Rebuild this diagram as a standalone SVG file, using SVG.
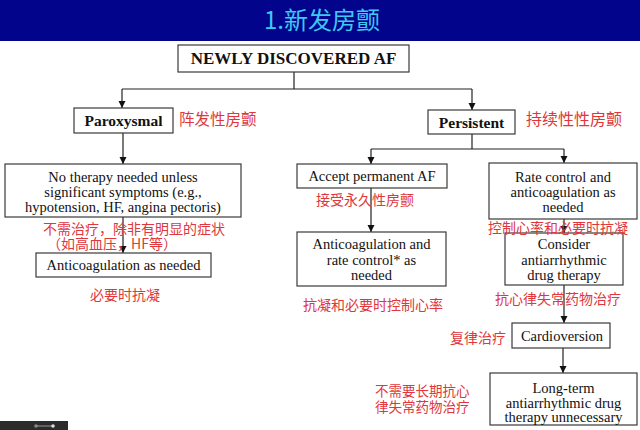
<svg xmlns="http://www.w3.org/2000/svg" width="640" height="430" viewBox="0 0 640 430">
<style>
.box{fill:#fff;stroke:#3a3a3a;stroke-width:1.2}
.en{font-family:"Liberation Serif","Times New Roman",serif;font-size:14.5px;fill:#111;text-anchor:middle}
.bold{font-weight:bold;font-size:15.5px}
.cn{font-family:"Noto Sans CJK SC","Noto Sans",sans-serif;font-size:14px;fill:#e0363c}
.conn{stroke:#222;stroke-width:1.2;fill:none}
</style>
<defs>
<marker id="arr" markerWidth="8" markerHeight="8" refX="7" refY="4" orient="auto" markerUnits="userSpaceOnUse">
<path d="M0,0.5 L7,4 L0,7.5 Z" fill="#111"/>
</marker>
</defs>
<rect x="0" y="0" width="640" height="430" fill="#fff"/>
<rect x="0" y="0" width="640" height="41" fill="#02058c"/>
<text x="322" y="29" text-anchor="middle" font-family="Noto Sans CJK SC, sans-serif" font-size="24" fill="#3ec8f4">1.新发房颤</text>

<g id="connectors">
<path class="conn" d="M294,72 V89 M122,89 H472"/>
<path class="conn" d="M122,89 V108" marker-end="url(#arr)"/>
<path class="conn" d="M472,89 V110" marker-end="url(#arr)"/>
<path class="conn" d="M123,133 V164" marker-end="url(#arr)"/>
<path class="conn" d="M123,217 V253" marker-end="url(#arr)"/>
<path class="conn" d="M472,134 V149 M371,149 H564"/>
<path class="conn" d="M371,149 V164" marker-end="url(#arr)"/>
<path class="conn" d="M564,149 V163" marker-end="url(#arr)"/>
<path class="conn" d="M371,188 V232" marker-end="url(#arr)"/>
<path class="conn" d="M564,219 V233" marker-end="url(#arr)"/>
<path class="conn" d="M564,285 V323" marker-end="url(#arr)"/>
<path class="conn" d="M563,348 V373" marker-end="url(#arr)"/>
</g>

<g id="newly">
<rect class="box" x="178" y="45" width="231" height="27"/>
<text class="en bold" x="293.5" y="64" style="font-size:17px">NEWLY DISCOVERED AF</text>
</g>
<g id="paroxysmal">
<rect class="box" x="74" y="108" width="99" height="25"/>
<text class="en bold" x="123.5" y="126">Paroxysmal</text>
</g>
<g id="persistent">
<rect class="box" x="428" y="110" width="87" height="24"/>
<text class="en bold" x="471.5" y="127.5">Persistent</text>
</g>
<g id="no-therapy">
<rect class="box" x="5" y="164" width="236" height="53"/>
<text class="en" x="123" y="182">No therapy needed unless</text>
<text class="en" x="123" y="197">significant symptoms (e.g.,</text>
<text class="en" x="123" y="212">hypotension, HF, angina pectoris)</text>
</g>
<g id="anticoag-needed">
<rect class="box" x="36" y="253" width="175" height="24"/>
<text class="en" x="123.5" y="270">Anticoagulation as needed</text>
</g>
<g id="accept">
<rect class="box" x="297" y="164" width="150" height="24"/>
<text class="en" x="372" y="181">Accept permanent AF</text>
</g>
<g id="rate-control">
<rect class="box" x="489" y="163" width="148" height="56"/>
<text class="en" x="563" y="182">Rate control and</text>
<text class="en" x="563" y="197">anticoagulation as</text>
<text class="en" x="563" y="212">needed</text>
</g>
<g id="anticoag-rate">
<rect class="box" x="297" y="232" width="149" height="54"/>
<text class="en" x="371.5" y="249">Anticoagulation and</text>
<text class="en" x="371.5" y="265">rate control* as</text>
<text class="en" x="371.5" y="280">needed</text>
</g>
<g id="consider">
<rect class="box" x="505" y="233" width="118" height="52"/>
<text class="en" x="564" y="249">Consider</text>
<text class="en" x="564" y="265">antiarrhythmic</text>
<text class="en" x="564" y="280">drug therapy</text>
</g>
<g id="cardioversion">
<rect class="box" x="512" y="323" width="98" height="25"/>
<text class="en" x="562" y="341">Cardioversion</text>
</g>
<g id="long-term">
<rect class="box" x="490" y="373" width="147" height="52"/>
<text class="en" x="563.5" y="392.5">Long-term</text>
<text class="en" x="563.5" y="407.5">antiarrhythmic drug</text>
<text class="en" x="563.5" y="421.5">therapy unnecessary</text>
</g>

<g id="labels">
<text class="cn" x="179" y="125" style="font-size:15.5px">阵发性房颤</text>
<text class="cn" x="526" y="125" style="font-size:16px">持续性性房颤</text>
<text class="cn" x="316" y="205">接受永久性房颤</text>
<text class="cn" x="488" y="233">控制心率和必要时抗凝</text>
<text class="cn" x="303" y="310">抗凝和必要时控制心率</text>
<text class="cn" x="495" y="304">抗心律失常药物治疗</text>
<text class="cn" x="450" y="343">复律治疗</text>
<text class="cn" x="375" y="396" style="font-size:13.5px">不需要长期抗心</text>
<text class="cn" x="375" y="412" style="font-size:13.5px">律失常药物治疗</text>
<text class="cn" x="43" y="234">不需治疗，除非有明显的症状</text>
<text class="cn" x="47" y="249">（如高血压，HF等）</text>
<text class="cn" x="90" y="300">必要时抗凝</text>
</g>

<g id="player-bar">
<rect x="0" y="421" width="68" height="9" fill="#2b2b2b"/>
<line x1="36" y1="426" x2="54" y2="426" stroke="#999" stroke-width="1"/>
<circle cx="36" cy="426" r="1.8" fill="#888"/>
<circle cx="53" cy="426" r="1.8" fill="#ddd"/>
</g>
</svg>
